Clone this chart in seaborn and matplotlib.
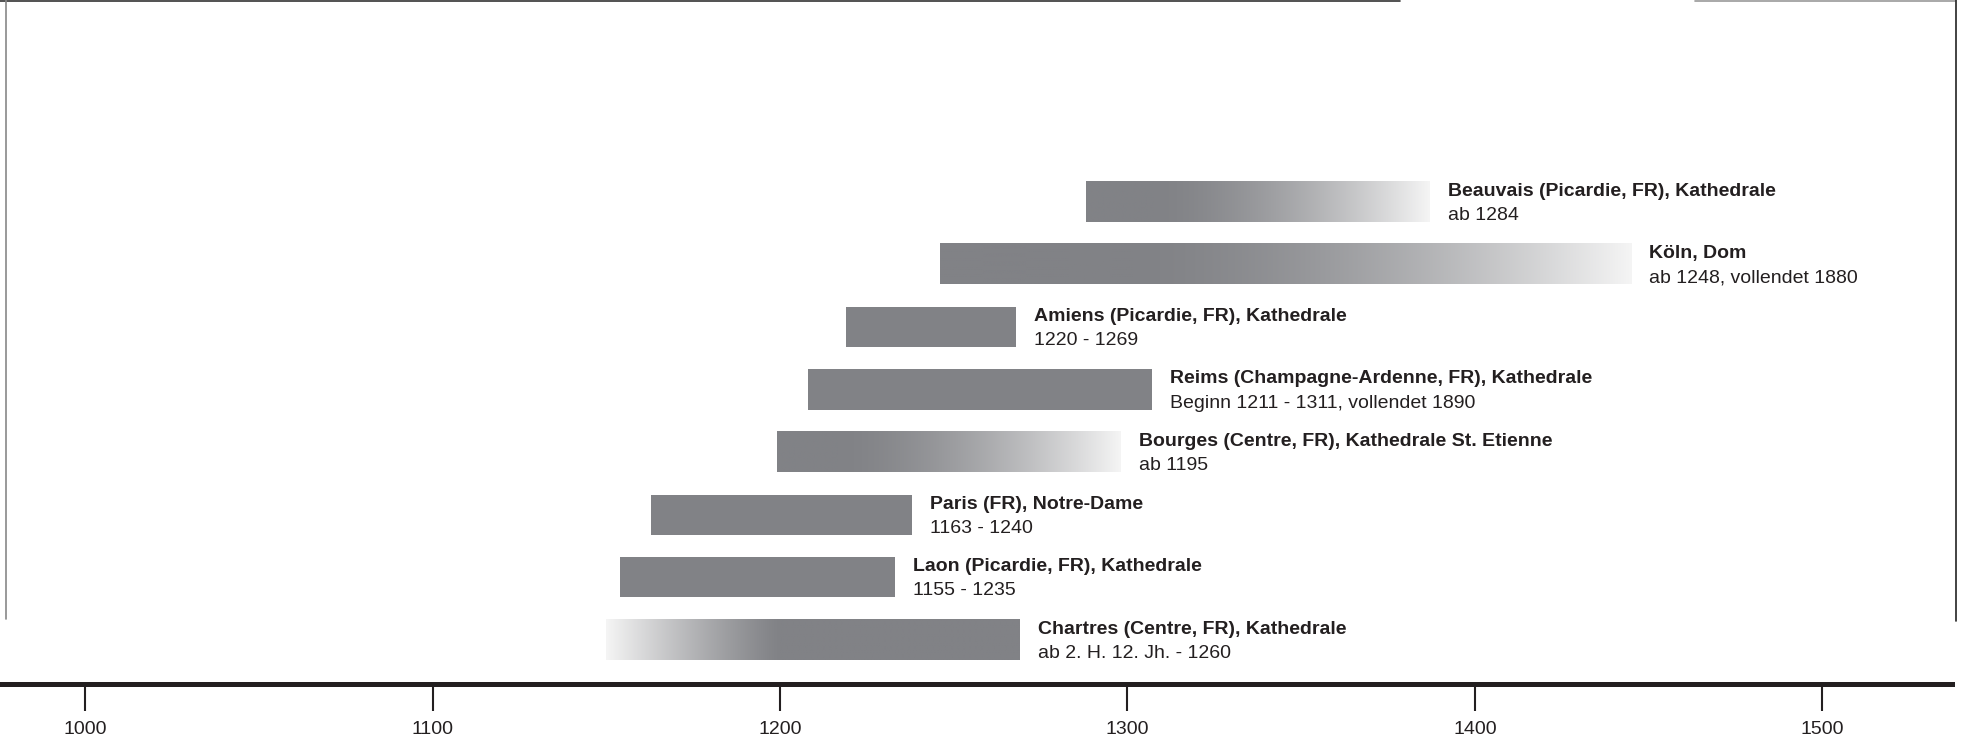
import numpy as np
import pandas as pd
import matplotlib
matplotlib.use("Agg")
import matplotlib.pyplot as plt
from matplotlib.lines import Line2D
import seaborn as sns

# data
names = ["Beauvais (Picardie, FR), Kathedrale",
         "Köln, Dom",
         "Amiens (Picardie, FR), Kathedrale",
         "Reims (Champagne-Ardenne, FR), Kathedrale",
         "Bourges (Centre, FR), Kathedrale St. Etienne",
         "Paris (FR), Notre-Dame",
         "Laon (Picardie, FR), Kathedrale",
         "Chartres (Centre, FR), Kathedrale"]
dates = ["ab 1284",
         "ab 1248, vollendet 1880",
         "1220 - 1269",
         "Beginn 1211 - 1311, vollendet 1890",
         "ab 1195",
         "1163 - 1240",
         "1155 - 1235",
         "ab 2. H. 12. Jh. - 1260"]
starts = [1288, 1246, 1219, 1208, 1199, 1163, 1154, 1150]
ends = [1387, 1445, 1268, 1307, 1298, 1238, 1233, 1269]
years = [1000, 1100, 1200, 1300, 1400, 1500]

# which bars fade out (right) or fade in (left): (side, fraction of bar that is faded)
fades = {"Beauvais (Picardie, FR), Kathedrale": ("right", 0.80),
         "Köln, Dom": ("right", 0.72),
         "Bourges (Centre, FR), Kathedrale St. Etienne": ("right", 0.82),
         "Chartres (Centre, FR), Kathedrale": ("left", 0.42)}

df = pd.DataFrame({"name": names, "start": starts, "end": ends})
df["dauer"] = df["end"] - df["start"]

GRAY = "#818286"
INK = "#231f20"

sns.set_theme(style="white")
plt.rcParams["font.family"] = ["Liberation Sans", "DejaVu Sans"]

fig = plt.figure(figsize=(19.7, 7.43), dpi=100)
ax = fig.add_axes([2 / 1970, 59 / 743, 1950 / 1970, 684 / 743])

sns.barplot(data=df, x="dauer", y="name", left=df["start"].values, orient="h",
            color=GRAY, saturation=1, width=0.64, linewidth=0, ax=ax)

# gradient bars
gray_rgb = np.array(matplotlib.colors.to_rgb(GRAY))
white_rgb = np.array([0.96, 0.96, 0.96])
for patch, name in zip(ax.patches, df["name"]):
    if name not in fades:
        continue
    side, frac = fades[name]
    u = np.linspace(0, 1, 400)
    if side == "right":
        t = np.clip((u - (1 - frac)) / frac, 0, 1) ** 1.6
    else:
        t = np.clip((frac - u) / frac, 0, 1) ** 1.2
    img = (gray_rgb[None, :] * (1 - t[:, None]) + white_rgb[None, :] * t[:, None])[None, :, :]
    x0, w = patch.get_x(), patch.get_width()
    y0, h = patch.get_y(), patch.get_height()
    patch.set_facecolor("none")
    ax.imshow(img, extent=[x0, x0 + w, y0 + h, y0], aspect="auto",
              interpolation="bilinear", zorder=patch.get_zorder())

# labels next to the bars
for i, (n, d, e) in enumerate(zip(names, dates, ends)):
    ax.annotate(n, xy=(e, i - 0.097), xytext=(13, 0), textcoords="offset points",
                fontsize=14, fontweight="bold", color=INK, va="baseline", ha="left")
    ax.annotate(d, xy=(e, i + 0.29), xytext=(13, 0), textcoords="offset points",
                fontsize=14, color=INK, va="baseline", ha="left")

ax.set_xlim(976.1, 1537.3)
ax.set_ylim(7.705, -3.222)
ax.set_xticks(years)
ax.set_xticklabels([str(y) for y in years])
ax.set_yticks([])
ax.set_xlabel("")
ax.set_ylabel("")
ax.tick_params(axis="x", bottom=True, direction="out", length=19.4, width=1.5,
               color=INK, pad=7.5, labelsize=14, labelcolor=INK)
for s in ["top", "left", "right"]:
    ax.spines[s].set_visible(False)
ax.spines["bottom"].set_linewidth(3.6)
ax.spines["bottom"].set_color(INK)


# scanned frame around the chart
def px(x, y):
    return x / 1970, 1 - y / 743


for (xa, ya), (xb, yb), c in [((0, 0.7), (1400, 0.7), "#333333"),
                              ((1695, 0.7), (1955, 0.7), "#999999"),
                              ((5.5, 0), (5.5, 619), "#888888"),
                              ((1955.5, 0), (1955.5, 621), "#222222")]:
    p0, p1 = px(xa, ya), px(xb, yb)
    fig.add_artist(Line2D([p0[0], p1[0]], [p0[1], p1[1]], color=c, lw=1.2,
                          transform=fig.transFigure))

fig.savefig("out.png", dpi=100)
